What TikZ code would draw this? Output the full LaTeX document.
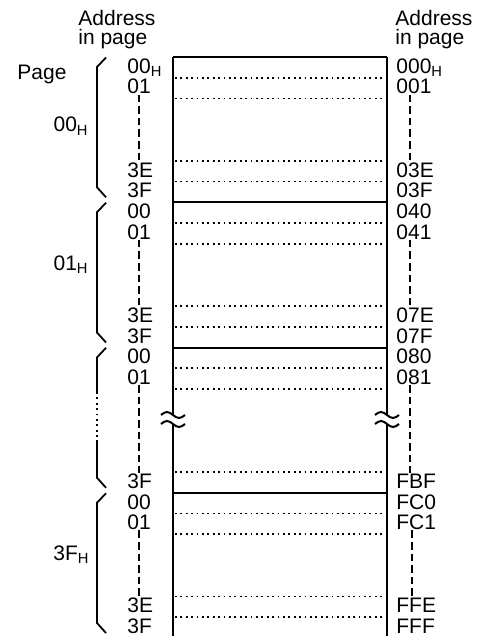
\documentclass[tikz,border=0pt]{standalone}
\usepackage{fontspec}
\setmainfont{Liberation Sans}
\usetikzlibrary{positioning}

\newcommand{\hx}[1]{#1\textsubscript{H}}
\def\rowh{20.75}

\begin{document}
\begin{tikzpicture}[x=0.5pt,y=-0.5pt,
		every node/.style={inner sep=0pt,font=\fontsize{10.5}{12}\selectfont},
		lbl/.style={anchor=base west},
		frame/.style={line width=1pt},
		dots/.style={line width=0.9pt,dash pattern=on 0.9pt off 1.8pt},
		skip/.style={line width=0.9pt,dash pattern=on 3.8pt off 2pt},
		brace/.style={line width=0.9pt}]

		\useasboundingbox (0,0) rectangle (481,636);

		% headers
		\node[lbl] (adrL) at (78,26) {Address};
		\node[lbl] (inL) at (78,45) {in page};
		\node[lbl] (adrR) at (395,26) {Address};
		\node[lbl] (inR) at (395,45) {in page};
		\node[lbl] (pg) at (17,80) {Page};

		% memory block
		\foreach \x in {173,387} {
			\draw[frame] (\x,57) -- (\x,415);
			\draw[frame] (\x,424) -- (\x,636);
			\draw[frame] (\x-12,415) sin (\x-6,412) cos (\x,415) sin (\x+6,418) cos (\x+12,415);
			\draw[frame] (\x-12,424) sin (\x-6,421) cos (\x,424) sin (\x+6,427) cos (\x+12,424);
		}
		\foreach \n in {0,7,14,21}
			\draw[frame] (173,{57+\n*\rowh}) -- (387,{57+\n*\rowh});
		\foreach \n in {1,2,5,6,8,9,12,13,15,16,20,22,23,26,27}
			\draw[dots] (175,{57+\n*\rowh}) -- (385,{57+\n*\rowh});

		% addresses
		\foreach \n/\a/\b in {0/\hx{00}/\hx{000},1/01/001,5/3E/03E,6/3F/03F,
				7/00/040,8/01/041,12/3E/07E,13/3F/07F,
				14/00/080,15/01/081,20/3F/FBF,
				21/00/FC0,22/01/FC1,26/3E/FFE,27/3F/FFF} {
			\node[lbl] (a\n) at (127,{57+(\n+1)*\rowh-4.5}) {\a};
			\node[lbl] (b\n) at (396,{57+(\n+1)*\rowh-4.5}) {\b};
		}
		\foreach \i/\j in {1/5,8/12,15/20,22/26} {
			\draw[skip] (a\i.south) -- (a\i.south |- a\j.north);
			\draw[skip] ([xshift=-2pt]b\i.south) -- ([xshift=-2pt]b\i.south |- b\j.north);
		}

		% pages
		\node[anchor=base east] (p00) at (89,132) {\hx{00}};
		\node[anchor=base east] (p01) at (89,270) {\hx{01}};
		\node[anchor=base east] (p3F) at (90,560) {\hx{3F}};

		\foreach \T in {57,202.25,492.75}
			\draw[brace] (106,\T+0.5) -- (97,\T+10) -- (97,\T+130.25) -- (106,\T+140.25);
		\draw[brace] (106,347.75) -- (97,357.5) -- (97,392);
		\draw[dots] (97,392) -- (97,440);
		\draw[brace] (97,440) -- (97,477.75) -- (106,487.75);
	\end{tikzpicture}
\end{document}
